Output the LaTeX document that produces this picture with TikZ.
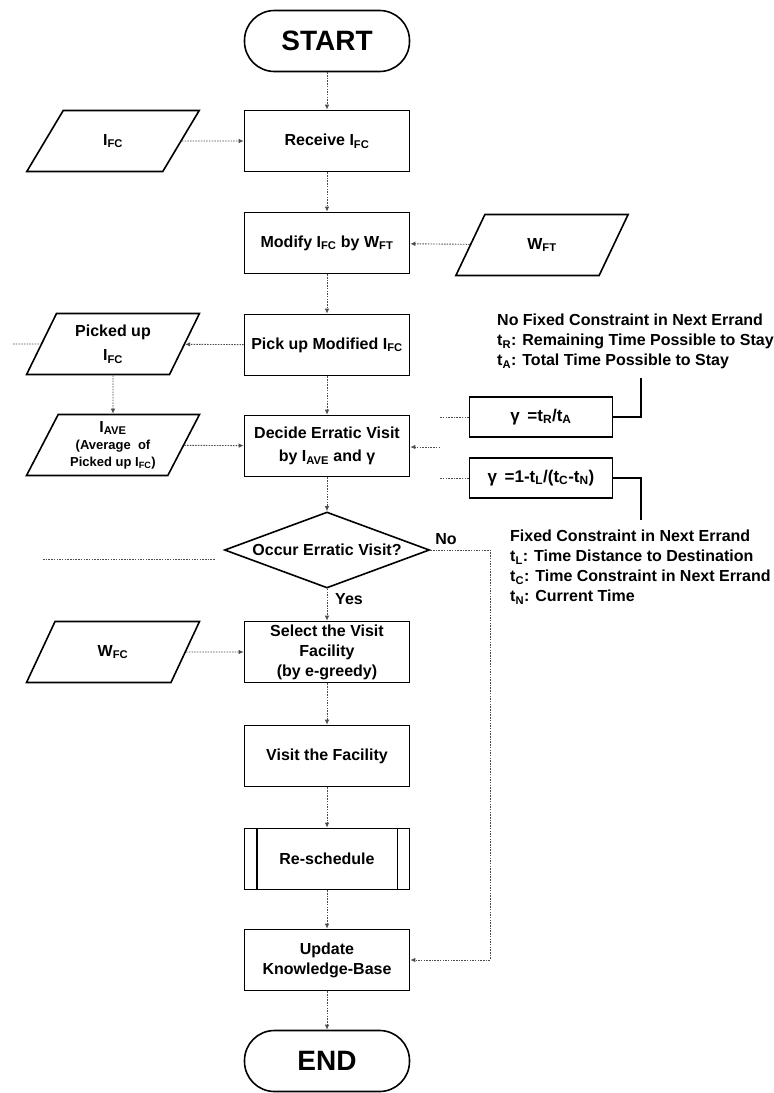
\documentclass[tikz,border=0pt]{standalone}
\usepackage{fontspec}
\setmainfont{Liberation Sans}
\usetikzlibrary{shapes.geometric, arrows.meta, calc}

\tikzset{
  process/.style={draw, line width=1.6pt, minimum width=165pt, minimum height=61pt,
    align=center, inner sep=2pt, font=\fontsize{16}{20}\selectfont\bfseries},
  terminal/.style={process, rounded corners=30pt, font=\fontsize{28}{32}\selectfont\bfseries},
  datain/.style={draw, trapezium, line width=1.6pt, trapezium left angle=63,
    trapezium right angle=117, trapezium stretches=true, minimum width=173pt,
    minimum height=61pt, align=center, inner sep=1pt, font=\fontsize{16}{20}\selectfont\bfseries},
  decision/.style={draw, diamond, line width=1.6pt, aspect=2.7, minimum width=205pt,
    minimum height=76pt, inner sep=0pt, font=\fontsize{16}{20}\selectfont\bfseries},
  gammabox/.style={draw, line width=1.6pt, minimum width=143pt, minimum height=40pt,
    inner sep=1pt, font=\fontsize{17}{20}\selectfont\bfseries},
  note/.style={align=left, inner sep=0pt, font=\fontsize{16}{20}\selectfont\bfseries},
  flow/.style={black!70, line width=0.9pt, dash pattern=on 1.5pt off 1.2pt},
  tip/.style={-{Latex[length=5pt,width=4.5pt]}},
  lead/.style={line width=1.3pt}
}

\begin{document}
\begin{tikzpicture}[x=1pt, y=-1pt]
        \useasboundingbox (0,0) rectangle (774,1093);

        % Main column of the flow
        \node[terminal] (start) at (327,41) {START};
        \node[process] (recv) at (327,141) {Receive I\textsubscript{FC}};
        \node[process] (modify) at (327,243) {Modify I\textsubscript{FC} by W\textsubscript{FT}};
        \node[process] (pickup) at (327,345) {Pick up Modified I\textsubscript{FC}};
        \node[process] (decide) at (327,446) {Decide Erratic Visit\\[3pt]by I\textsubscript{AVE} and γ};
        \node[decision] (occur) at (327,550) {Occur Erratic Visit?};
        \node[process] (select) at (327,652) {Select the Visit\\Facility\\(by e-greedy)};
        \node[process] (visit) at (327,756) {Visit the Facility};
        \node[process] (resched) at (327,859) {Re-schedule};
        \node[process] (update) at (327,960) {Update\\Knowledge-Base};
        \node[terminal] (finish) at (327,1061) {END};

        % Side lines of the predefined process
        \draw[line width=1.6pt] ([xshift=13pt]resched.north west) -- ([xshift=13pt]resched.south west);
        \draw[line width=1.6pt] ([xshift=-13pt]resched.north east) -- ([xshift=-13pt]resched.south east);

        % Data inputs
        \node[datain] (ifc) at (113,141) {I\textsubscript{FC}};
        \node[datain] (wft) at (542,245) {W\textsubscript{FT}};
        \node[datain] (pickedup) at (113,344) {Picked up\\[4pt]I\textsubscript{FC}};
        \node[datain] (iave) at (113,445) {I\textsubscript{AVE}\\[-3pt]{\fontsize{13}{17}\selectfont (Average\ \ of}\\[-3pt]{\fontsize{13}{17}\selectfont Picked up I\textsubscript{FC})}};
        \node[datain] (wfc) at (113,652) {W\textsubscript{FC}};

        % Gamma definitions and notes
        \node[gammabox] (gtr) at (541,417) {γ \,=t\textsubscript{R}/t\textsubscript{A}};
        \node[gammabox] (gtl) at (541,478) {γ \,=1-t\textsubscript{L}/(t\textsubscript{C}-t\textsubscript{N})};
        \node[note, anchor=north west] (notea) at (497,314) {No Fixed Constraint in Next Errand\\t\textsubscript{R}: Remaining Time Possible to Stay\\t\textsubscript{A}: Total Time Possible to Stay};
        \node[note, anchor=north west] (noteb) at (510,530) {Fixed Constraint in Next Errand\\t\textsubscript{L}: Time Distance to Destination\\t\textsubscript{C}: Time Constraint in Next Errand\\t\textsubscript{N}: Current Time};
        \coordinate (ka) at (641,378);
        \coordinate (kb) at (641,520);
        \draw[lead] (gtr.east) -| (ka);
        \draw[lead] (gtl.east) -| (kb);

        % Flow connectors
        \draw[flow, tip] (start) -- (recv);
        \draw[flow, tip] (ifc) -- (recv);
        \draw[flow, tip] (recv) -- (modify);
        \draw[flow, tip] (wft) -- (modify);
        \draw[flow, tip] (modify) -- (pickup);
        \draw[flow, tip] (pickup) -- (pickedup);
        \coordinate (offa) at (13,344);
        \draw[flow] (offa) -- (pickedup.west);
        \draw[flow, tip] (pickedup) -- (iave);
        \draw[flow, tip] (iave) -- (decide);
        \draw[flow, tip] (pickup) -- (decide);

        % Gamma into the decision
        \coordinate (gjoin) at (440,447);
        \draw[flow] (gtr.west) -- (gtr.west -| gjoin);
        \draw[flow] (gtl.west) -- (gtl.west -| gjoin);
        \draw[flow, tip] (gjoin) -- (gjoin -| decide.east);

        \draw[flow, tip] (decide) -- (occur);
        \coordinate (offb) at (43,559);
        \draw[flow, shorten >=9pt] (offb) -- (offb -| occur.west);
        \draw[flow, tip] (occur) -- (select);
        \node[font=\fontsize{16}{20}\selectfont\bfseries] (yes) at (349,599) {Yes};
        \coordinate (nobend) at (490,550);
        \draw[flow, tip] (occur.east) -- (nobend) |- (update.east);
        \node[font=\fontsize{16}{20}\selectfont\bfseries] (no) at (446,539) {No};
        \draw[flow, tip] (wfc) -- (select);
        \draw[flow, tip] (select) -- (visit);
        \draw[flow, tip] (visit) -- (resched);
        \draw[flow, tip] (resched) -- (update);
        \draw[flow, tip] (update) -- (finish);
    \end{tikzpicture}
\end{document}
